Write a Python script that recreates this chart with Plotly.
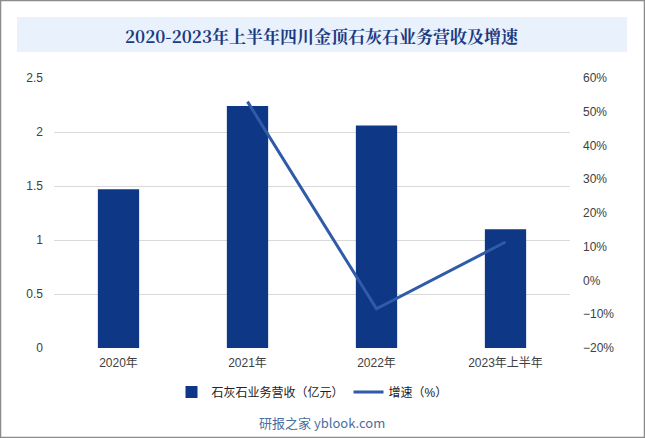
import plotly.graph_objects as go

# ── Datos ──────────────────────────────────────────────────────────────────
periodos = ["2020年", "2021年", "2022年", "2023年上半年"]
ingresos = [1.47, 2.24, 2.06, 1.10]          # 亿元
crecimiento = [None, 0.53, -0.084, 0.114]    # %

W, H = 645, 438
L, R, T, B = 54, 75, 78, 90
PW, PH = W - L - R, H - T - B


def px_x(x):
    return (x - L) / PW


def px_y(y):
    return (H - B - y) / PH


COL_BAR = "#0E3785"
COL_LINE = "#2F5BA9"
FONT = "Liberation Sans, Noto Sans CJK SC, sans-serif"

fig = go.Figure()
fig.add_trace(go.Bar(
    x=periodos, y=ingresos, name="石灰石业务营收（亿元）",
    marker=dict(color=COL_BAR, line_width=0), width=0.32,
))
fig.add_trace(go.Scatter(
    x=periodos, y=crecimiento, name="增速（%）", yaxis="y2",
    mode="lines", line=dict(color=COL_LINE, width=3),
))

fig.update_layout(
    width=W, height=H,
    margin=dict(l=L, r=R, t=T, b=B),
    paper_bgcolor="white", plot_bgcolor="white",
    font=dict(family=FONT, size=12, color="#404040"),
    showlegend=True,
    legend=dict(orientation="h", x=0.5, xanchor="center", y=px_y(392),
                yanchor="middle", font=dict(size=12, color="#222"),
                itemwidth=30, traceorder="normal"),
    xaxis=dict(showgrid=False, showline=False, ticks="", ticklabelstandoff=6,
               tickfont=dict(size=12, color="#404040")),
    yaxis=dict(range=[0, 2.5], dtick=0.5, gridcolor="#d9d9d9", gridwidth=1,
               zeroline=False, showline=False, ticks="", ticklabelstandoff=10,
               tickformat="~g", tickfont=dict(size=12, color="#404040")),
    yaxis2=dict(range=[-0.2, 0.6], dtick=0.1, overlaying="y", side="right",
                showgrid=False, zeroline=False, tickformat=".0%", ticklabelstandoff=12,
                tickfont=dict(size=12, color="#404040")),
    shapes=[
        dict(type="rect", xref="paper", yref="paper",
             x0=px_x(17), x1=px_x(627), y0=px_y(52), y1=px_y(17),
             fillcolor="#E9F1FC", line_width=0, layer="below"),
        dict(type="rect", xref="paper", yref="paper",
             x0=px_x(0.5), x1=px_x(W - 0.5), y0=px_y(H - 0.5), y1=px_y(0.5),
             line=dict(color="#8c8c8c", width=1.5), fillcolor="rgba(0,0,0,0)"),
    ],
    annotations=[
        dict(text="<b>2020-2023年上半年四川金顶石灰石业务营收及增速</b>",
             xref="paper", yref="paper", x=px_x(322), y=px_y(35),
             showarrow=False, xanchor="center", yanchor="middle",
             font=dict(family="Noto Serif CJK SC, Noto Sans CJK SC, serif",
                       size=17, color="#1B3A82")),
        dict(text="研报之家 yblook.com",
             xref="paper", yref="paper", x=px_x(322), y=px_y(422),
             showarrow=False, xanchor="center", yanchor="middle",
             font=dict(family="Noto Sans CJK SC, sans-serif", size=13, color="#4A6E9E")),
    ],
)

fig.write_html("out.html", config={"displayModeBar": False},
               post_script="document.body.style.margin='0';")
